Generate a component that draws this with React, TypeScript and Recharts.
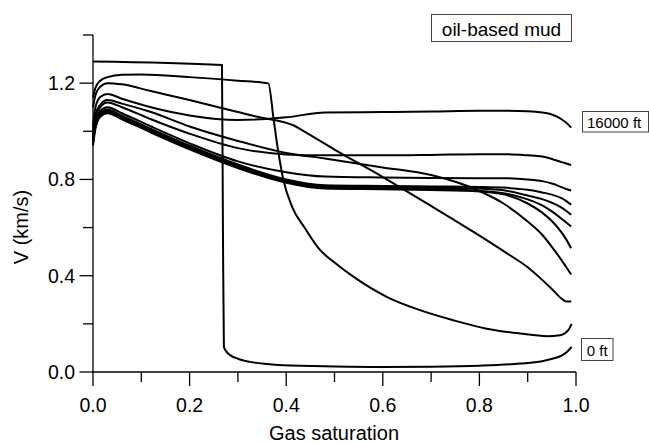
import React from "react";
import { LineChart, Line, XAxis, YAxis } from "recharts";

// shared saturation grid for the smooth curves
const satGrid = [0, 0.005, 0.015, 0.03, 0.06, 0.12, 0.2, 0.3, 0.4, 0.48, 0.6, 0.7, 0.8, 0.85, 0.9, 0.93, 0.95, 0.97, 0.98, 0.99];

const v16000 = [1.02, 1.1, 1.142, 1.155, 1.135, 1.1, 1.066, 1.047, 1.058, 1.078, 1.08, 1.082, 1.085, 1.085, 1.083, 1.078, 1.07, 1.05, 1.035, 1.015];
const vE = [0.99, 1.06, 1.1, 1.12, 1.1, 1.05, 0.99, 0.93, 0.904, 0.9, 0.9, 0.902, 0.905, 0.905, 0.9, 0.895, 0.885, 0.872, 0.866, 0.86];
const vF = [0.98, 1.05, 1.085, 1.1, 1.075, 1.02, 0.95, 0.875, 0.83, 0.812, 0.808, 0.806, 0.805, 0.805, 0.8, 0.793, 0.783, 0.768, 0.76, 0.754];
const vG = [0.97, 1.04, 1.075, 1.09, 1.065, 1.01, 0.94, 0.862, 0.8, 0.776, 0.773, 0.771, 0.769, 0.766, 0.757, 0.746, 0.737, 0.722, 0.71, 0.695];
const vH = [0.96, 1.03, 1.07, 1.085, 1.06, 1.005, 0.935, 0.857, 0.795, 0.771, 0.768, 0.766, 0.762, 0.755, 0.733, 0.718, 0.703, 0.683, 0.669, 0.653];
const vI = [0.95, 1.02, 1.065, 1.08, 1.055, 1.0, 0.93, 0.852, 0.79, 0.767, 0.764, 0.761, 0.753, 0.743, 0.717, 0.692, 0.667, 0.637, 0.621, 0.604];
const vJ = [0.94, 1.01, 1.06, 1.075, 1.05, 0.995, 0.925, 0.847, 0.786, 0.762, 0.759, 0.756, 0.75, 0.738, 0.7, 0.662, 0.627, 0.58, 0.55, 0.514];
const vK = [1.0, 1.07, 1.11, 1.13, 1.115, 1.08, 1.02, 0.96, 0.91, 0.887, 0.85, 0.818, 0.752, 0.7, 0.625, 0.57, 0.52, 0.465, 0.435, 0.405];

// diagonal curve with a kink near 0.415
const xD = [0, 0.005, 0.015, 0.03, 0.06, 0.12, 0.2, 0.3, 0.35, 0.4, 0.417, 0.43, 0.5, 0.6, 0.7, 0.787, 0.857, 0.9, 0.926, 0.95, 0.97, 0.98, 0.99];
const vD = [1.1, 1.15, 1.185, 1.2, 1.195, 1.167, 1.13, 1.08, 1.056, 1.035, 1.023, 1.008, 0.924, 0.81, 0.69, 0.583, 0.493, 0.435, 0.39, 0.345, 0.305, 0.293, 0.293];

// step curve dropping at 0.365
const xB = [0, 0.005, 0.015, 0.03, 0.06, 0.1, 0.2, 0.3, 0.363, 0.374, 0.384, 0.394, 0.412, 0.439, 0.47, 0.5, 0.539, 0.608, 0.677, 0.746, 0.815, 0.884, 0.94, 0.967, 0.984, 0.991];
const vB = [1.14, 1.18, 1.21, 1.225, 1.235, 1.236, 1.225, 1.21, 1.199, 1.049, 0.91, 0.8, 0.687, 0.597, 0.507, 0.455, 0.396, 0.3125, 0.257, 0.215, 0.18, 0.16, 0.149, 0.153, 0.174, 0.2];

// 0 ft curve, step at 0.27
const x0ft = [0, 0.267, 0.269, 0.271, 0.276, 0.284, 0.3, 0.325, 0.36, 0.394, 0.5, 0.6, 0.7, 0.8, 0.884, 0.93, 0.953, 0.97, 0.981, 0.991];
const v0ft = [1.29, 1.275, 0.6, 0.105, 0.085, 0.07, 0.055, 0.042, 0.033, 0.028, 0.023, 0.021, 0.022, 0.026, 0.035, 0.045, 0.056, 0.068, 0.083, 0.104];

const xTicks = [0, 0.1, 0.2, 0.3, 0.4, 0.5, 0.6, 0.7, 0.8, 0.9, 1.0];
const xLabels = [0, 0.2, 0.4, 0.6, 0.8, 1.0];
const yTicks = [0, 0.2, 0.4, 0.6, 0.8, 1.0, 1.2, 1.4];
const yLabels = [0, 0.4, 0.8, 1.2];

const zip = (xs: number[], vs: number[]) => xs.map((x, i) => ({ x, v: vs[i] }));

const curves = [
  zip(x0ft, v0ft),
  zip(xB, vB),
  zip(xD, vD),
  zip(satGrid, vK),
  zip(satGrid, vJ),
  zip(satGrid, vI),
  zip(satGrid, vH),
  zip(satGrid, vG),
  zip(satGrid, vF),
  zip(satGrid, vE),
  zip(satGrid, v16000),
];

const FONT = "'Liberation Sans', Arial, Helvetica, sans-serif";
const has = (list: number[], v: number) => list.some((t) => Math.abs(t - v) < 1e-6);

const XTick = (props: any) => {
  const { x, y, payload } = props;
  const major = has(xLabels, payload.value);
  return (
    <g>
      <line x1={x} x2={x} y1={y} y2={y + (major ? 14 : 10)} stroke="#000" strokeWidth={1.3} />
      {major && (
        <text x={x} y={y + 39.5} textAnchor="middle" fontSize={19.5} fontFamily={FONT} fill="#000">
          {payload.value.toFixed(1)}
        </text>
      )}
    </g>
  );
};

const YTick = (props: any) => {
  const { x, y, payload } = props;
  const major = has(yLabels, payload.value);
  return (
    <g>
      <line x1={x - (major ? 13.5 : 10)} x2={x} y1={y} y2={y} stroke="#000" strokeWidth={1.3} />
      {major && (
        <text x={x - 18} y={y + 7} textAnchor="end" fontSize={19.5} fontFamily={FONT} fill="#000">
          {payload.value.toFixed(1)}
        </text>
      )}
    </g>
  );
};

export default function App() {
  return (
    <div style={{ position: "absolute", left: 0, top: 0, width: 649, height: 443, background: "#fff" }}>
      <LineChart width={649} height={443} margin={{ top: 35, right: 73, bottom: 0, left: 0 }}>
        <XAxis
          dataKey="x"
          type="number"
          domain={[0, 1]}
          ticks={xTicks}
          interval={0}
          height={71}
          tickSize={0}
          tickMargin={0}
          tickLine={false}
          tick={<XTick />}
          axisLine={{ stroke: "#000", strokeWidth: 1.3 }}
        />
        <YAxis
          type="number"
          domain={[0, 1.4]}
          ticks={yTicks}
          interval={0}
          width={93}
          tickSize={0}
          tickMargin={0}
          tickLine={false}
          tick={<YTick />}
          axisLine={{ stroke: "#000", strokeWidth: 1.3 }}
        />
        {curves.map((d, i) => (
          <Line
            key={i}
            data={d}
            dataKey="v"
            type="monotone"
            stroke="#000"
            strokeWidth={2}
            dot={false}
            activeDot={false}
            isAnimationActive={false}
          />
        ))}
      </LineChart>
      <svg
        width={649}
        height={443}
        style={{ position: "absolute", left: 0, top: 0, pointerEvents: "none" }}
        fontFamily={FONT}
      >
        <text x={28} y={227} transform="rotate(-90 28 227)" textAnchor="middle" fontSize={20} fill="#000">
          V (km/s)
        </text>
        <text x={334} y={440} textAnchor="middle" fontSize={20} fill="#000">
          Gas saturation
        </text>
        <rect x={431.5} y={14.5} width={140} height={27} fill="#fff" stroke="#444" strokeWidth={1} />
        <text x={501.5} y={36} textAnchor="middle" fontSize={19} fill="#000">
          oil-based mud
        </text>
        <rect x={582.5} y={111.5} width={66} height={20.5} fill="#fff" stroke="#444" strokeWidth={1} />
        <text x={587} y={127.5} fontSize={15} fill="#000">
          16000 ft
        </text>
        <rect x={581.5} y={338.5} width={31.5} height={22} fill="#fff" stroke="#444" strokeWidth={1} />
        <text x={597.25} y={355.5} textAnchor="middle" fontSize={15} fill="#000">
          0 ft
        </text>
      </svg>
    </div>
  );
}
